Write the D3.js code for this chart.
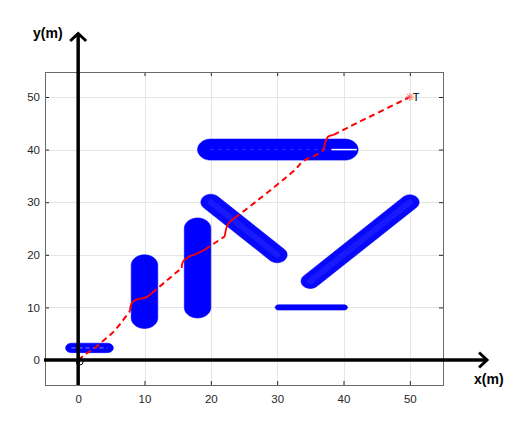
<!DOCTYPE html>
<html><head><meta charset="utf-8">
<script src="https://cdn.jsdelivr.net/npm/d3@7"></script>
<style>
html,body{margin:0;padding:0;background:#fff;}
svg{display:block;font-family:"Liberation Sans",Arial,Helvetica,sans-serif;}
</style></head>
<body>
<script>
// ---- data ----
const xTicks = [0, 10, 20, 30, 40, 50];
const yTicks = [0, 10, 20, 30, 40, 50];
const xDomain = [-5, 55];
const yDomain = [-4.75, 54.75];

// obstacles: [x1, y1, x2, y2, radius] in metres
const obstacles = [
  [-1, 2.3, 4.4, 2.3, 0.9],
  [10, 8, 10, 18, 2],
  [18, 10, 18, 25, 2],
  [20, 40, 40.2, 40, 2],
  [20, 30, 30, 20, 1.5],
  [35, 15, 50, 30, 1.4],
  [30.2, 10, 40.1, 10, 0.5]
];
const obstacleTextured = [false, false, false, false, true, true, false];

// planned path pieces (dashed straight parts, solid avoidance wiggles)
const dashed1 = [[0,0],[1.0,1.0],[2.5,2.3],[4.0,3.9],[5.2,5.2],[6.6,7.3],[7.8,9.3]];
const wave1   = [[7.8,9.3],[8.0,10.6],[8.6,11.4],[9.6,11.7],[10.4,12.0],[11.1,12.7]];
const dashed2 = [[11.1,12.7],[15.6,17.5]];
const wave2   = [[15.6,17.5],[15.8,18.7],[16.6,19.6],[17.9,20.2],[19.1,21.0]];
const dashed3 = [[19.1,21.0],[22.1,23.5]];
const wave3   = [[22.1,23.5],[22.4,25.3],[22.9,26.3],[23.6,27.0]];
const dashed4 = [[23.6,27.0],[26.9,30.2],[32.7,36.2],[33.9,37.8],[35.9,39.0],[37.0,40.0]];
const wave4   = [[37.0,40.0],[37.4,41.9],[37.7,42.5],[38.5,42.8]];
const dashed5 = [[38.5,42.8],[41.0,44.4],[50,50]];
const startPoint = [0, 0];
const targetPoint = [50, 50];
const targetLabel = "T";
const whiteMark = [[38.2, 40], [42, 40]];

// ---- drawing ----
const W = 526, H = 431;
const svg = d3.select("body").append("svg").attr("width", W).attr("height", H);
const x = d3.scaleLinear().domain(xDomain).range([45, 443]);
const y = d3.scaleLinear().domain(yDomain).range([385, 72]);

// grid
const grid = svg.append("g").attr("stroke", "#e6e6e6").attr("stroke-width", 1);
grid.selectAll(".gx").data(xTicks).join("line")
  .attr("x1", d => Math.round(x(d)) + 0.5).attr("x2", d => Math.round(x(d)) + 0.5)
  .attr("y1", y.range()[1]).attr("y2", y.range()[0]);
grid.selectAll(".gy").data(yTicks).join("line")
  .attr("y1", d => Math.round(y(d)) + 0.5).attr("y2", d => Math.round(y(d)) + 0.5)
  .attr("x1", x.range()[0]).attr("x2", x.range()[1]);

// obstacles as capsules in data units
function capsule(o) {
  const [x1, y1, x2, y2, r] = o;
  const a = Math.atan2(y2 - y1, x2 - x1);
  const pts = [];
  const n = 40;
  for (let i = 0; i <= n; i++) {
    const t = a - Math.PI / 2 + Math.PI * i / n;
    pts.push([x2 + r * Math.cos(t), y2 + r * Math.sin(t)]);
  }
  for (let i = 0; i <= n; i++) {
    const t = a + Math.PI / 2 + Math.PI * i / n;
    pts.push([x1 + r * Math.cos(t), y1 + r * Math.sin(t)]);
  }
  return d3.line().x(d => x(d[0])).y(d => y(d[1]))(pts) + "Z";
}
const obsG = svg.append("g");
obsG.selectAll("path").data(obstacles).join("path")
  .attr("d", capsule)
  .attr("fill", (d, i) => obstacleTextured[i] ? "#0808fc" : "#0000ff")
  .attr("stroke", "#0000ff")
  .attr("stroke-width", 0.6);
// faint inner texture lines
obsG.selectAll("line.c").data(obstacles.filter((d, i) => obstacleTextured[i])).join("line")
  .attr("x1", d => x(d[0])).attr("y1", d => y(d[1]))
  .attr("x2", d => x(d[2])).attr("y2", d => y(d[3]))
  .attr("stroke", "#4a4aff").attr("stroke-width", 6).attr("stroke-opacity", 0.25)
  .attr("stroke-linecap", "round");
obsG.append("line")
  .attr("x1", x(obstacles[0][0])).attr("y1", y(obstacles[0][1]))
  .attr("x2", x(obstacles[0][2])).attr("y2", y(obstacles[0][3]))
  .attr("stroke", "#7f7fff").attr("stroke-width", 1).attr("stroke-dasharray", "4,3");
obsG.append("line")
  .attr("x1", x(obstacles[3][0])).attr("y1", y(obstacles[3][1]))
  .attr("x2", x(obstacles[3][2])).attr("y2", y(obstacles[3][3]))
  .attr("stroke", "#3a3aff").attr("stroke-width", 1).attr("stroke-dasharray", "3,5");
svg.append("line")
  .attr("x1", x(whiteMark[0][0])).attr("y1", y(whiteMark[0][1]))
  .attr("x2", x(whiteMark[1][0])).attr("y2", y(whiteMark[1][1]))
  .attr("stroke", "#fff").attr("stroke-width", 1.5);

// path
const lineCurve = d3.line().x(d => x(d[0])).y(d => y(d[1])).curve(d3.curveCatmullRom);
const pathG = svg.append("g").attr("fill", "none").attr("stroke", "#ff0000").attr("stroke-width", 2);
[dashed1, dashed2, dashed3, dashed4, dashed5].forEach(seg => {
  pathG.append("path").attr("d", lineCurve(seg)).attr("stroke-dasharray", "6,4");
});
[wave1, wave2, wave3, wave4].forEach(seg => {
  pathG.append("path").attr("d", lineCurve(seg)).attr("stroke-width", 1.8);
});

// target marker (asterisk) and label
const tx = x(targetPoint[0]), ty = y(targetPoint[1]);
const ast = svg.append("g").attr("stroke", "#ff6a6a").attr("stroke-width", 1);
[[-4,0,4,0],[0,-4,0,4],[-3,-3,3,3],[-3,3,3,-3]].forEach(s => {
  ast.append("line").attr("x1", tx + s[0]).attr("y1", ty + s[1]).attr("x2", tx + s[2]).attr("y2", ty + s[3]);
});
svg.append("text").attr("x", tx + 3).attr("y", ty + 4).text(targetLabel)
  .attr("font-size", 11).attr("fill", "#000");

// start marker
svg.append("circle").attr("cx", x(startPoint[0]) + 1.5).attr("cy", y(startPoint[1]) + 1.5).attr("r", 3.5)
  .attr("fill", "none").attr("stroke", "#000").attr("stroke-width", 1);

// axes box + ticks
const tickCol = "#262626";
const xa = svg.append("g").attr("transform", `translate(0,${y.range()[0]})`)
  .call(d3.axisBottom(x).tickValues(xTicks).tickSize(-4).tickPadding(10));
const xt = svg.append("g").attr("transform", `translate(0,${y.range()[1]})`)
  .call(d3.axisTop(x).tickValues(xTicks).tickSize(-4).tickFormat(""));
const ya = svg.append("g").attr("transform", `translate(${x.range()[0]},0)`)
  .call(d3.axisLeft(y).tickValues(yTicks).tickSize(-4).tickPadding(5));
const yr = svg.append("g").attr("transform", `translate(${x.range()[1]},0)`)
  .call(d3.axisRight(y).tickValues(yTicks).tickSize(-4).tickFormat(""));
[xa, xt, ya, yr].forEach(g => {
  g.select(".domain").remove();
  g.selectAll(".tick line").attr("stroke", tickCol);
  g.selectAll(".tick text").attr("fill", tickCol).attr("font-size", 11.5)
    .attr("font-family", "Liberation Sans, Arial, sans-serif");
});
svg.append("rect").attr("x", x.range()[0] + 0.5).attr("y", y.range()[1] + 0.5)
  .attr("width", x.range()[1] - x.range()[0]).attr("height", y.range()[0] - y.range()[1])
  .attr("fill", "none").attr("stroke", "#6a6a6a").attr("stroke-width", 1);

// thick arrow axes
const arr = svg.append("g").attr("stroke", "#000").attr("fill", "none")
  .attr("stroke-width", 3.5);
const y0 = y(0), x0 = x(0);
arr.append("line").attr("x1", x.range()[0] - 1).attr("x2", x.range()[1] + 44).attr("y1", y0).attr("y2", y0);
arr.append("path").attr("d", `M${x.range()[1] + 36},${y0 - 7.5}L${x.range()[1] + 44},${y0}L${x.range()[1] + 36},${y0 + 7.5}`)
  .attr("stroke-width", 3);
arr.append("line").attr("x1", x0).attr("x2", x0).attr("y1", y.range()[0]).attr("y2", y.range()[1] - 38);
arr.append("path").attr("d", `M${x0 - 8},${y.range()[1] - 31}L${x0},${y.range()[1] - 38.5}L${x0 + 8},${y.range()[1] - 31}`)
  .attr("stroke-width", 3);

svg.append("text").attr("x", 33).attr("y", 38).text("y(m)")
  .attr("font-size", 14).attr("font-weight", "bold").attr("fill", "#000");
svg.append("text").attr("x", 474).attr("y", 384).text("x(m)")
  .attr("font-size", 14).attr("font-weight", "bold").attr("fill", "#000");
</script>
</body></html>
